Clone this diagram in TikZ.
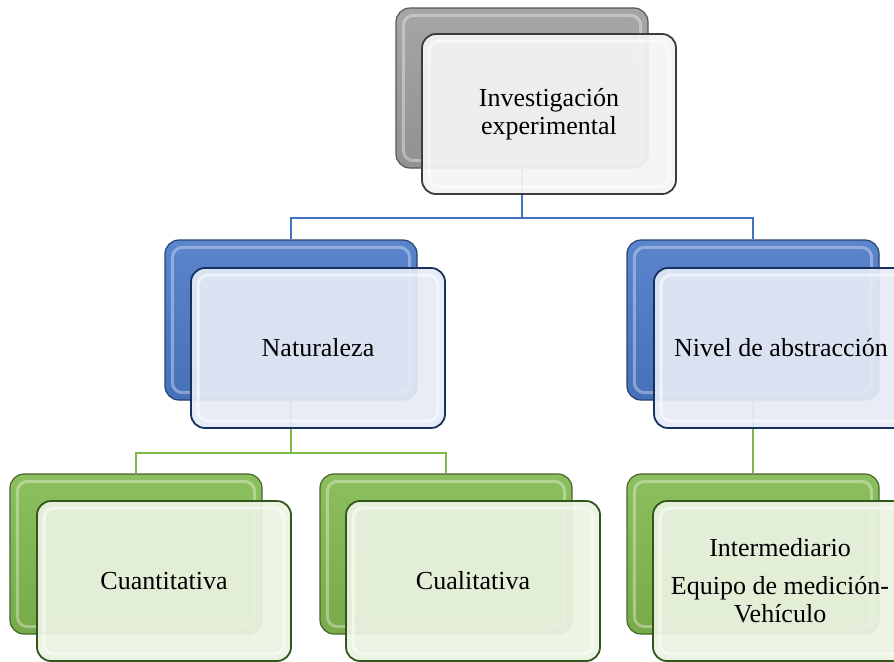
\documentclass[tikz,border=0pt]{standalone}
\usepackage{fontspec}
\setmainfont{Liberation Serif}
\usepackage{xcolor}
\usetikzlibrary{positioning,calc,backgrounds}

\definecolor{offgray}{RGB}{158,158,158}
\definecolor{offblue}{RGB}{76,122,200}
\definecolor{offgreen}{RGB}{130,185,80}
\definecolor{paleinv}{RGB}{244,244,244}
\definecolor{paleblue}{RGB}{229,235,246}
\definecolor{palegreen}{RGB}{235,243,226}
\definecolor{linkblue}{RGB}{68,114,196}
\definecolor{linkgreen}{RGB}{125,185,70}
\definecolor{edgegray}{RGB}{60,60,60}
\definecolor{edgeblue}{RGB}{23,50,94}
\definecolor{edgegreen}{RGB}{50,86,30}

\newcommand{\boxfont}{\fontsize{13}{14}\selectfont}

\begin{document}
\begin{tikzpicture}[
    x=0.5pt, y=-0.5pt,
    backbox/.style={draw=#1!55!black, line width=0.6pt, rounded corners=7pt,
        minimum width=126pt, minimum height=80pt,
        top color=#1!92!white, bottom color=#1!92!black},
    frontbox/.style 2 args={draw=#2, line width=0.9pt, rounded corners=7pt,
        minimum width=127pt, minimum height=80pt,
        fill=#1, fill opacity=0.93, text opacity=1,
        align=center, font=\boxfont},
    bevel/.style={draw=white, line width=1.5pt, opacity=0.55, rounded corners=5pt},
    link/.style={draw=#1, line width=1pt}
]

    % --- Page ---
    \useasboundingbox (0,0) rectangle (894,661);
    \clip (0,0) rectangle (894,661);

    % --- Back boxes ---
    \node[backbox=offgray]  (invB)   at (522,88)  {};
    \node[backbox=offblue]  (natB)   at (291,320) {};
    \node[backbox=offblue]  (nivB)   at (753,320) {};
    \node[backbox=offgreen] (cuanB)  at (136,554) {};
    \node[backbox=offgreen] (cualB)  at (446,554) {};
    \node[backbox=offgreen] (interB) at (753,554) {};
    \foreach \b in {invB,natB,nivB,cuanB,cualB,interB}
        \draw[bevel, opacity=0.35] ([shift={(4pt,-4pt)}]\b.north west) rectangle ([shift={(-4pt,4pt)}]\b.south east);

    % --- Connectors ---
    \draw[link=linkblue] (invB.south) -- ++(0,49) -| (natB.north);
    \draw[link=linkblue] (invB.south) -- ++(0,49) -| (nivB.north);
    \draw[link=linkgreen] (natB.south) -- ++(0,52) -| (cuanB.north);
    \draw[link=linkgreen] (natB.south) -- ++(0,52) -| (cualB.north);
    \draw[link=linkgreen] (nivB.south) -- (interB.north);

    % --- Front boxes ---
    \node[frontbox={paleinv}{edgegray}]    (inv)   at (549,114) {Investigación\\experimental};
    \node[frontbox={paleblue}{edgeblue}]   (nat)   at (318,348) {Naturaleza};
    \node[frontbox={paleblue}{edgeblue}]   (niv)   at (781,348) {Nivel de abstracción};
    \node[frontbox={palegreen}{edgegreen}] (cuan)  at (164,581) {Cuantitativa};
    \node[frontbox={palegreen}{edgegreen}] (cual)  at (473,581) {Cualitativa};
    \node[frontbox={palegreen}{edgegreen}] (inter) at (780,581) {Intermediario\\[5pt]Equipo de medición-\\Vehículo};

    % --- Bevel highlights ---
    \foreach \b in {inv,nat,niv,cuan,cual,inter}
        \draw[bevel] ([shift={(4pt,-4pt)}]\b.north west) rectangle ([shift={(-4pt,4pt)}]\b.south east);

\end{tikzpicture}
\end{document}
